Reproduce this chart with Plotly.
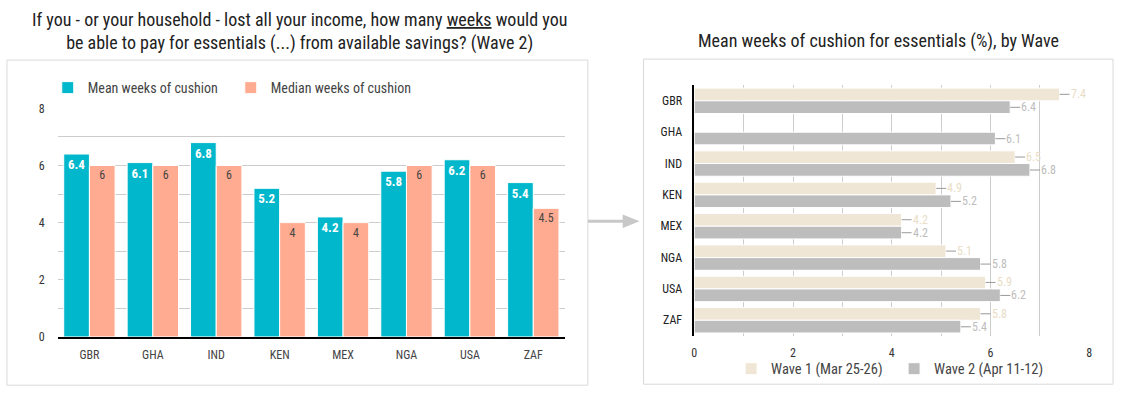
import plotly.graph_objects as go

W, H = 1124, 397
def px(x): return x / W
def py(y): return 1 - y / H

# ---- data ----
countries = ["GBR", "GHA", "IND", "KEN", "MEX", "NGA", "USA", "ZAF"]
mean_weeks = [6.4, 6.1, 6.8, 5.2, 4.2, 5.8, 6.2, 5.4]
median_weeks = [6, 6, 6, 4, 4, 6, 6, 4.5]
wave1 = [7.4, None, 6.5, 4.9, 4.2, 5.1, 5.9, 5.8]
wave2 = [6.4, 6.1, 6.8, 5.2, 4.2, 5.8, 6.2, 5.4]
left_title = "If you - or your household - lost all your income, how many <u>weeks</u> would you<br>be able to pay for essentials (...) from available savings? (Wave 2)"
right_title = "Mean weeks of cushion for essentials (%), by Wave"

FONT = "Roboto Condensed, Liberation Sans Narrow, DejaVu Sans Condensed, Roboto, sans-serif"
TEAL = "#00B7CB"
SALMON = "#FFAB91"
BEIGE = "#EFE6D6"
GREY = "#BDBDBD"

fig = go.Figure()

fig.add_trace(go.Bar(
    x=countries, y=mean_weeks, name="Mean weeks of cushion",
    marker=dict(color=TEAL, line=dict(color="white", width=1)),
    text=[f"{v:g}" for v in mean_weeks], textposition="inside",
    insidetextanchor="end", textangle=0, constraintext="none",
    textfont=dict(color="white", size=13, family=FONT, weight="bold"),
    xaxis="x", yaxis="y", legend="legend"))
fig.add_trace(go.Bar(
    x=countries, y=median_weeks, name="Median weeks of cushion",
    marker=dict(color=SALMON, line=dict(color="white", width=1)),
    text=[f"{v:g}" for v in median_weeks], textposition="inside",
    insidetextanchor="end", textangle=0, constraintext="none",
    textfont=dict(color="#444444", size=12, family=FONT),
    xaxis="x", yaxis="y", legend="legend"))

fig.add_trace(go.Bar(
    y=countries, x=wave1, name="Wave 1 (Mar 25-26)", orientation="h",
    marker=dict(color=BEIGE, line=dict(color="white", width=1)),
    xaxis="x2", yaxis="y2", legend="legend2"))
fig.add_trace(go.Bar(
    y=countries, x=wave2, name="Wave 2 (Apr 11-12)", orientation="h",
    marker=dict(color=GREY, line=dict(color="white", width=1)),
    xaxis="x2", yaxis="y2", legend="legend2"))

annotations = []
for series, shift, col in [(wave1, 6.5, "#E9DDC6"), (wave2, -6.5, "#BDBDBD")]:
    for c, v in zip(countries, series):
        if v is None:
            continue
        annotations.append(dict(
            x=v, y=c, xref="x2", yref="y2", text=f"{v:g}",
            showarrow=True, arrowhead=0, arrowwidth=1, arrowcolor="#999999",
            ax=10, ay=0, xanchor="left", yshift=shift, borderpad=0,
            font=dict(color=col, size=12, family=FONT)))

annotations.append(dict(
    x=px(298), y=py(25), xref="paper", yref="paper", text=left_title,
    showarrow=False, xanchor="center", yanchor="middle",
    font=dict(size=18, color="#222222", family=FONT)))
annotations.append(dict(
    x=px(880), y=py(35), xref="paper", yref="paper", text=right_title,
    showarrow=False, xanchor="center", yanchor="middle",
    font=dict(size=18, color="#222222", family=FONT)))

shapes = [
    dict(type="rect", xref="paper", yref="paper", x0=px(4), x1=px(588),
         y0=py(392), y1=py(55), line=dict(color="#D9D9D9", width=1)),
    dict(type="rect", xref="paper", yref="paper", x0=px(644), x1=px(1116),
         y0=py(391), y1=py(54), line=dict(color="#D9D9D9", width=1)),
    dict(type="line", xref="paper", yref="paper", x0=px(588), x1=px(624),
         y0=py(222), y1=py(222), line=dict(color="#C8C8C8", width=3)),
    dict(type="path", xref="paper", yref="paper",
         path=f"M {px(623)},{py(215)} L {px(623)},{py(229)} L {px(640)},{py(222)} Z",
         fillcolor="#C8C8C8", line=dict(color="#C8C8C8", width=0)),
]

fig.update_layout(
    width=W, height=H, autosize=False,
    margin=dict(l=0, r=0, t=0, b=0),
    paper_bgcolor="white", plot_bgcolor="white",
    font=dict(family=FONT, color="#333333", size=12),
    barmode="group", bargap=0.19, bargroupgap=0.0,
    showlegend=True,
    xaxis=dict(domain=[px(55), px(565)], anchor="y", showline=True,
               linecolor="black", linewidth=1.5, ticks="",
               tickfont=dict(size=12, color="#444444"), ticklabelstandoff=6),
    yaxis=dict(domain=[py(342), py(105)], anchor="x", range=[0, 8],
               dtick=2, showgrid=True, gridcolor="#CCCCCC", zeroline=False,
               minor=dict(dtick=1, showgrid=True, gridcolor="#CCCCCC"),
               ticks="", tickfont=dict(size=12, color="#333333"),
               ticklabelstandoff=12),
    xaxis2=dict(domain=[px(695), px(1092)], anchor="y2", range=[0, 8],
                dtick=2, showgrid=True, gridcolor="#CCCCCC", zeroline=False,
                minor=dict(dtick=1, showgrid=True, gridcolor="#CCCCCC"),
                ticks="", tickfont=dict(size=12, color="#333333"),
                ticklabelstandoff=8),
    yaxis2=dict(domain=[py(341), py(81)], anchor="x2", autorange="reversed",
                showline=True, linecolor="black", linewidth=1.5, ticks="",
                tickfont=dict(size=12, color="#222222"), ticklabelstandoff=8),
    legend=dict(orientation="h", x=px(45), y=py(84), xanchor="left",
                yanchor="middle", font=dict(size=14, color="#444444"),
                entrywidth=138, bgcolor="rgba(0,0,0,0)"),
    legend2=dict(orientation="h", x=px(732), y=py(375), xanchor="left",
                 yanchor="middle", font=dict(size=14.5, color="#444444"),
                 entrywidth=118, bgcolor="rgba(0,0,0,0)"),
    annotations=annotations,
    shapes=shapes,
)

fig.write_html("out.html", config={"displayModeBar": False},
               post_script="document.body.style.margin='0';document.body.style.overflow='hidden';")
